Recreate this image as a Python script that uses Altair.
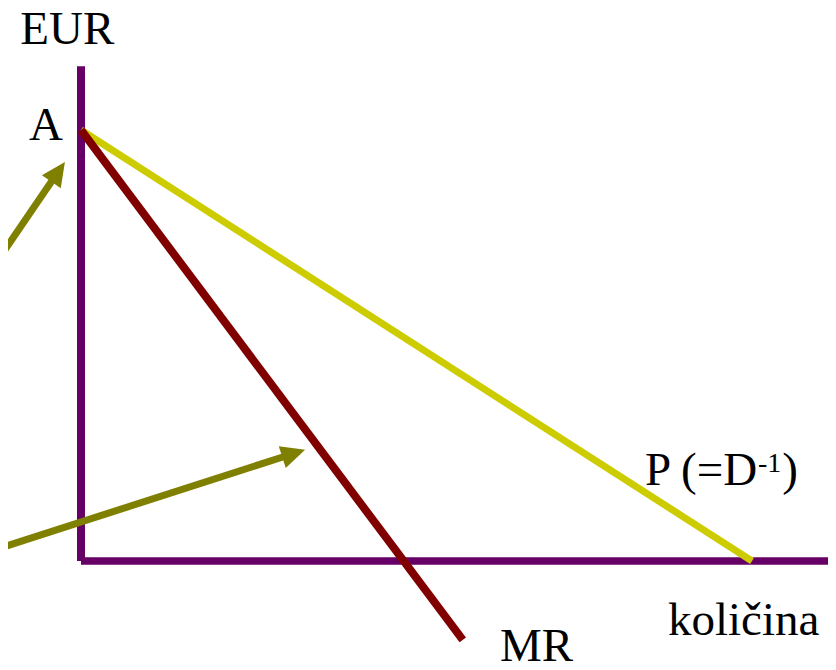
import altair as alt
import pandas as pd
import numpy as np

# ---- data (diagram units: quantity on x, EUR on y; axis corner at 0,0) ----
seg_name = ["axis_y", "axis_x", "P", "MR", "arrow1", "arrow2"]
seg_x = [0.0, 0.0, 0.0, 0.0, -1.21, -1.21]
seg_y = [0.0, 0.0, 10.0, 10.0, 7.05, 0.30]
seg_x2 = [0.0, 11.25, 10.0, 5.69, -0.24, 3.34]
seg_y2 = [11.48, 0.0, 0.0, -1.83, 9.26, 2.58]

label_text = ["EUR", "A", "P (=D", "-1", ")", "MR", "količina"]
label_x = [-0.905, -0.268, 8.405, 10.09, 10.45, 6.244, 8.748]
label_y = [12.0, 9.77, 1.763, 2.065, 1.763, -2.33, -1.717]

# ---- styles ----
W, H = 820, 654
XD = [-1.088, 11.133]
YD = [-2.343, 12.831]
seg_style = {
    "axis_y": ("#660066", 8),
    "axis_x": ("#660066", 7.5),
    "P": ("#cccc00", 7),
    "MR": ("#800000", 8),
    "arrow1": ("#808000", 7),
    "arrow2": ("#808000", 7),
}
label_size = {"-1": 28}
label_align = {"A": "right"}

pxx = W / (XD[1] - XD[0])
pxy = H / (YD[1] - YD[0])

segs = pd.DataFrame({"name": seg_name, "x": seg_x, "y": seg_y, "x2": seg_x2, "y2": seg_y2})
segs["color"] = [seg_style[n][0] for n in segs["name"]]
segs["sw"] = [seg_style[n][1] for n in segs["name"]]
segs["order"] = range(len(segs))

# arrowheads at the ends of the arrow segments
heads = segs[segs["name"].str.startswith("arrow")].copy()
dxp = (heads["x2"] - heads["x"]) * pxx
dyp = -(heads["y2"] - heads["y"]) * pxy
heads["angle"] = np.degrees(np.arctan2(dxp, -dyp)) % 360
ln = np.hypot(dxp, dyp)
back = 12.0
sh = segs.copy()
for i in heads.index:
    sh.loc[i, "x2"] = segs.loc[i, "x2"] - back * dxp[i] / ln[i] / pxx
    sh.loc[i, "y2"] = segs.loc[i, "y2"] + back * dyp[i] / ln[i] / pxy

xs = alt.Scale(domain=XD, nice=False, zero=False)
ys = alt.Scale(domain=YD, nice=False, zero=False)

rules = alt.Chart(sh).mark_rule(strokeCap="butt").encode(
    x=alt.X("x:Q", scale=xs, axis=None),
    y=alt.Y("y:Q", scale=ys, axis=None),
    x2="x2:Q",
    y2="y2:Q",
    color=alt.Color("color:N", scale=None),
    strokeWidth=alt.StrokeWidth("sw:Q", scale=None),
    order="order:Q",
)

head_layer = alt.Chart(heads).mark_point(
    shape="M0,0L-0.95,2L0.95,2Z", filled=True, size=576, opacity=1, color="#808000", strokeWidth=0
).encode(
    x=alt.X("x2:Q", scale=xs, axis=None),
    y=alt.Y("y2:Q", scale=ys, axis=None),
    angle=alt.Angle("angle:Q", scale=None),
)

labels = pd.DataFrame({"text": label_text, "x": label_x, "y": label_y})
labels["size"] = [label_size.get(t, 47) for t in labels["text"]]
labels["align"] = [label_align.get(t, "left") for t in labels["text"]]

def text_layer(align):
    d = labels[labels["align"] == align]
    return alt.Chart(d).mark_text(
        font="Liberation Serif", align=align, baseline="alphabetic", color="black"
    ).encode(
        x=alt.X("x:Q", scale=xs, axis=None),
        y=alt.Y("y:Q", scale=ys, axis=None),
        text="text:N",
        size=alt.Size("size:Q", scale=None),
    )

chart = alt.layer(rules, head_layer, text_layer("left"), text_layer("right")).properties(
    width=W, height=H, padding=0, autosize=alt.AutoSizeParams(type="none")
).configure_view(stroke=None)

chart.save("out.html", embed_options={"renderer": "svg", "actions": False})
